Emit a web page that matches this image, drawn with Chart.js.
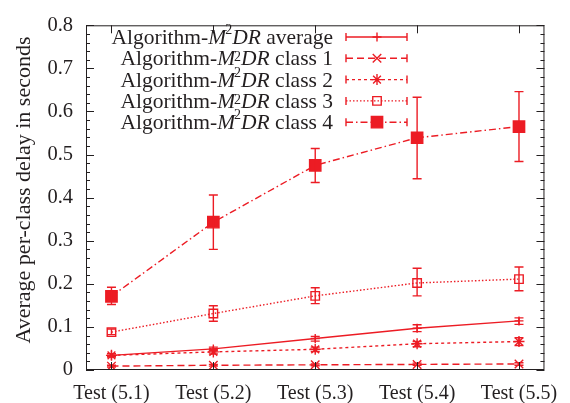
<!DOCTYPE html>
<html>
<head>
<meta charset="utf-8">
<script src="https://cdn.jsdelivr.net/npm/chart.js@4/dist/chart.umd.min.js"></script>
<style>
  html, body { margin: 0; padding: 0; background: #fff; }
  #wrap { width: 570px; height: 403px; }
</style>
</head>
<body>
<div id="wrap"><canvas id="chart" width="570" height="403"></canvas></div>
<script>
const categories = ['Test (5.1)', 'Test (5.2)', 'Test (5.3)', 'Test (5.4)', 'Test (5.5)'];

const avgDelay = [0.034, 0.049, 0.073, 0.097, 0.114];
const avgLow   = [0.031, 0.045, 0.067, 0.089, 0.106];
const avgHigh  = [0.038, 0.053, 0.078, 0.105, 0.121];

const class1Delay = [0.009, 0.011, 0.012, 0.013, 0.014];
const class1Low   = [0.007, 0.009, 0.010, 0.011, 0.011];
const class1High  = [0.011, 0.013, 0.014, 0.016, 0.017];

const class2Delay = [0.034, 0.042, 0.048, 0.061, 0.066];
const class2Low   = [0.030, 0.037, 0.043, 0.054, 0.057];
const class2High  = [0.038, 0.047, 0.053, 0.066, 0.075];

const class3Delay = [0.088, 0.131, 0.172, 0.202, 0.211];
const class3Low   = [0.082, 0.113, 0.154, 0.172, 0.184];
const class3High  = [0.095, 0.149, 0.191, 0.236, 0.239];

const class4Delay = [0.171, 0.343, 0.475, 0.539, 0.565];
const class4Low   = [0.152, 0.280, 0.435, 0.444, 0.484];
const class4High  = [0.192, 0.406, 0.514, 0.633, 0.646];

const seriesNames = ['average', 'class 1', 'class 2', 'class 3', 'class 4'];

const RED = '#ec1c24';
const INK = '#231f20';
const FONT = '"Liberation Serif", "Times New Roman", serif';

const toPoints = arr => arr.map((v, i) => ({ x: i, y: v }));

const series = [
  { data: avgDelay, low: avgLow, high: avgHigh, dash: [], style: 'cross', r: 4.5, fill: 'rgba(0,0,0,0)' },
  { data: class1Delay, low: class1Low, high: class1High, dash: [7, 4], style: 'crossRot', r: 6, fill: 'rgba(0,0,0,0)' },
  { data: class2Delay, low: class2Low, high: class2High, dash: [3, 3], style: 'star', r: 5.5, fill: 'rgba(0,0,0,0)' },
  { data: class3Delay, low: class3Low, high: class3High, dash: [1.5, 2], style: 'rect', r: 6, fill: 'rgba(0,0,0,0)' },
  { data: class4Delay, low: class4Low, high: class4High, dash: [7, 3, 1.5, 3], style: 'rect', r: 8, fill: RED },
];

// error bars, frame, inward ticks, legend and y title (gnuplot look)
const gnuplotLook = {
  id: 'gnuplotLook',
  afterDatasetsDraw(chart) {
    const { ctx, scales: { x, y } } = chart;
    ctx.save();
    ctx.strokeStyle = RED;
    ctx.lineWidth = 1.4;
    series.forEach(s => {
      s.data.forEach((v, i) => {
        const px = x.getPixelForValue(i);
        const lo = y.getPixelForValue(s.low[i]);
        const hi = y.getPixelForValue(s.high[i]);
        ctx.beginPath();
        ctx.moveTo(px, lo); ctx.lineTo(px, hi);
        ctx.moveTo(px - 4.5, lo); ctx.lineTo(px + 4.5, lo);
        ctx.moveTo(px - 4.5, hi); ctx.lineTo(px + 4.5, hi);
        ctx.stroke();
      });
    });
    ctx.restore();
  },
  afterDraw(chart) {
    const { ctx, chartArea: a, scales: { x, y } } = chart;
    ctx.save();
    ctx.strokeStyle = INK;
    ctx.lineWidth = 1;
    ctx.strokeRect(a.left + 0.5, a.top + 0.5, a.right - a.left - 1, a.bottom - a.top - 1);

    ctx.beginPath();
    for (let k = 0; k <= 40; k++) {
      const py = Math.round(y.getPixelForValue(k * 0.02)) + 0.5;
      const len = k % 5 === 0 ? 8 : 4;
      ctx.moveTo(a.left, py); ctx.lineTo(a.left + len, py);
      ctx.moveTo(a.right, py); ctx.lineTo(a.right - len, py);
    }
    categories.forEach((c, i) => {
      const px = Math.round(x.getPixelForValue(i)) + 0.5;
      ctx.moveTo(px, a.bottom); ctx.lineTo(px, a.bottom - 8);
      ctx.moveTo(px, a.top); ctx.lineTo(px, a.top + 8);
    });
    ctx.stroke();

    // y axis title
    ctx.fillStyle = INK;
    ctx.font = '22px ' + FONT;
    ctx.textAlign = 'center';
    ctx.textBaseline = 'middle';
    ctx.translate(24, 190);
    ctx.rotate(-Math.PI / 2);
    ctx.fillText('Average per-class delay in seconds', 0, 0);
    ctx.setTransform(1, 0, 0, 1, 0, 0);

    // legend
    const textRight = 333, x0 = 346, x1 = 407, xm = 377;
    seriesNames.forEach((name, i) => {
      const ry = 37 + i * 21.3;
      const s = series[i];
      const parts = [
        { t: 'Algorithm-', f: '21.5px ' + FONT, dy: 0, dx: 0 },
        { t: 'M', f: 'italic 21.5px ' + FONT, dy: 0, dx: 0 },
        { t: '2', f: '14px ' + FONT, dy: (i % 2 === 0) ? -10 : -4, dx: -1 },
        { t: 'DR', f: 'italic 21.5px ' + FONT, dy: 0, dx: 0 },
        { t: ' ' + name, f: '21.5px ' + FONT, dy: 0, dx: 0 },
      ];
      let total = 0;
      parts.forEach(p => { ctx.font = p.f; p.w = ctx.measureText(p.t).width; total += p.w + p.dx; });
      let cx = textRight - total;
      ctx.textAlign = 'left';
      ctx.textBaseline = 'alphabetic';
      ctx.fillStyle = INK;
      parts.forEach(p => {
        ctx.font = p.f;
        cx += p.dx;
        ctx.fillText(p.t, cx, ry + 7 + p.dy);
        cx += p.w;
      });

      ctx.strokeStyle = RED;
      ctx.lineWidth = 1.4;
      ctx.setLineDash(s.dash);
      ctx.beginPath(); ctx.moveTo(x0, ry); ctx.lineTo(x1, ry); ctx.stroke();
      ctx.setLineDash([]);
      ctx.beginPath();
      ctx.moveTo(x0, ry - 4); ctx.lineTo(x0, ry + 4);
      ctx.moveTo(x1, ry - 4); ctx.lineTo(x1, ry + 4);
      ctx.stroke();
      ctx.fillStyle = s.fill;
      Chart.helpers.drawPoint(ctx, { pointStyle: s.style, radius: s.r, rotation: 0, borderWidth: 1.4 }, xm, ry);
    });
    ctx.restore();
  }
};

new Chart(document.getElementById('chart'), {
  type: 'line',
  data: {
    datasets: series.map((s, i) => ({
      label: seriesNames[i],
      data: toPoints(s.data),
      borderColor: RED,
      backgroundColor: s.fill,
      borderWidth: 1.4,
      borderDash: s.dash,
      pointStyle: s.style,
      pointRadius: s.r,
      pointBorderWidth: 1.4,
      pointBackgroundColor: s.fill,
      pointBorderColor: RED,
      tension: 0,
      fill: false,
    })),
  },
  options: {
    responsive: false,
    animation: false,
    events: [],
    layout: { padding: { top: 19, right: 15, left: 0, bottom: 0 } },
    plugins: { legend: { display: false }, tooltip: { enabled: false } },
    scales: {
      x: {
        type: 'linear',
        min: -0.25,
        max: 4.25,
        afterBuildTicks: scale => { scale.ticks = categories.map((c, i) => ({ value: i })); },
        afterFit: scale => { scale.height = 33; },
        grid: { display: false, drawTicks: false },
        border: { display: false },
        ticks: {
          callback: v => categories[v] ?? '',
          color: INK,
          font: { family: FONT, size: 20 },
          padding: 12,
          maxRotation: 0,
          autoSkip: false,
        },
      },
      y: {
        min: 0,
        max: 0.8,
        afterFit: scale => { scale.width = 86; },
        grid: { display: false, drawTicks: false },
        border: { display: false },
        ticks: {
          stepSize: 0.1,
          callback: v => (v === 0 ? '0' : v.toFixed(1)),
          color: INK,
          font: { family: FONT, size: 20.5 },
          padding: 13,
        },
      },
    },
  },
  plugins: [gnuplotLook],
});
</script>
</body>
</html>
